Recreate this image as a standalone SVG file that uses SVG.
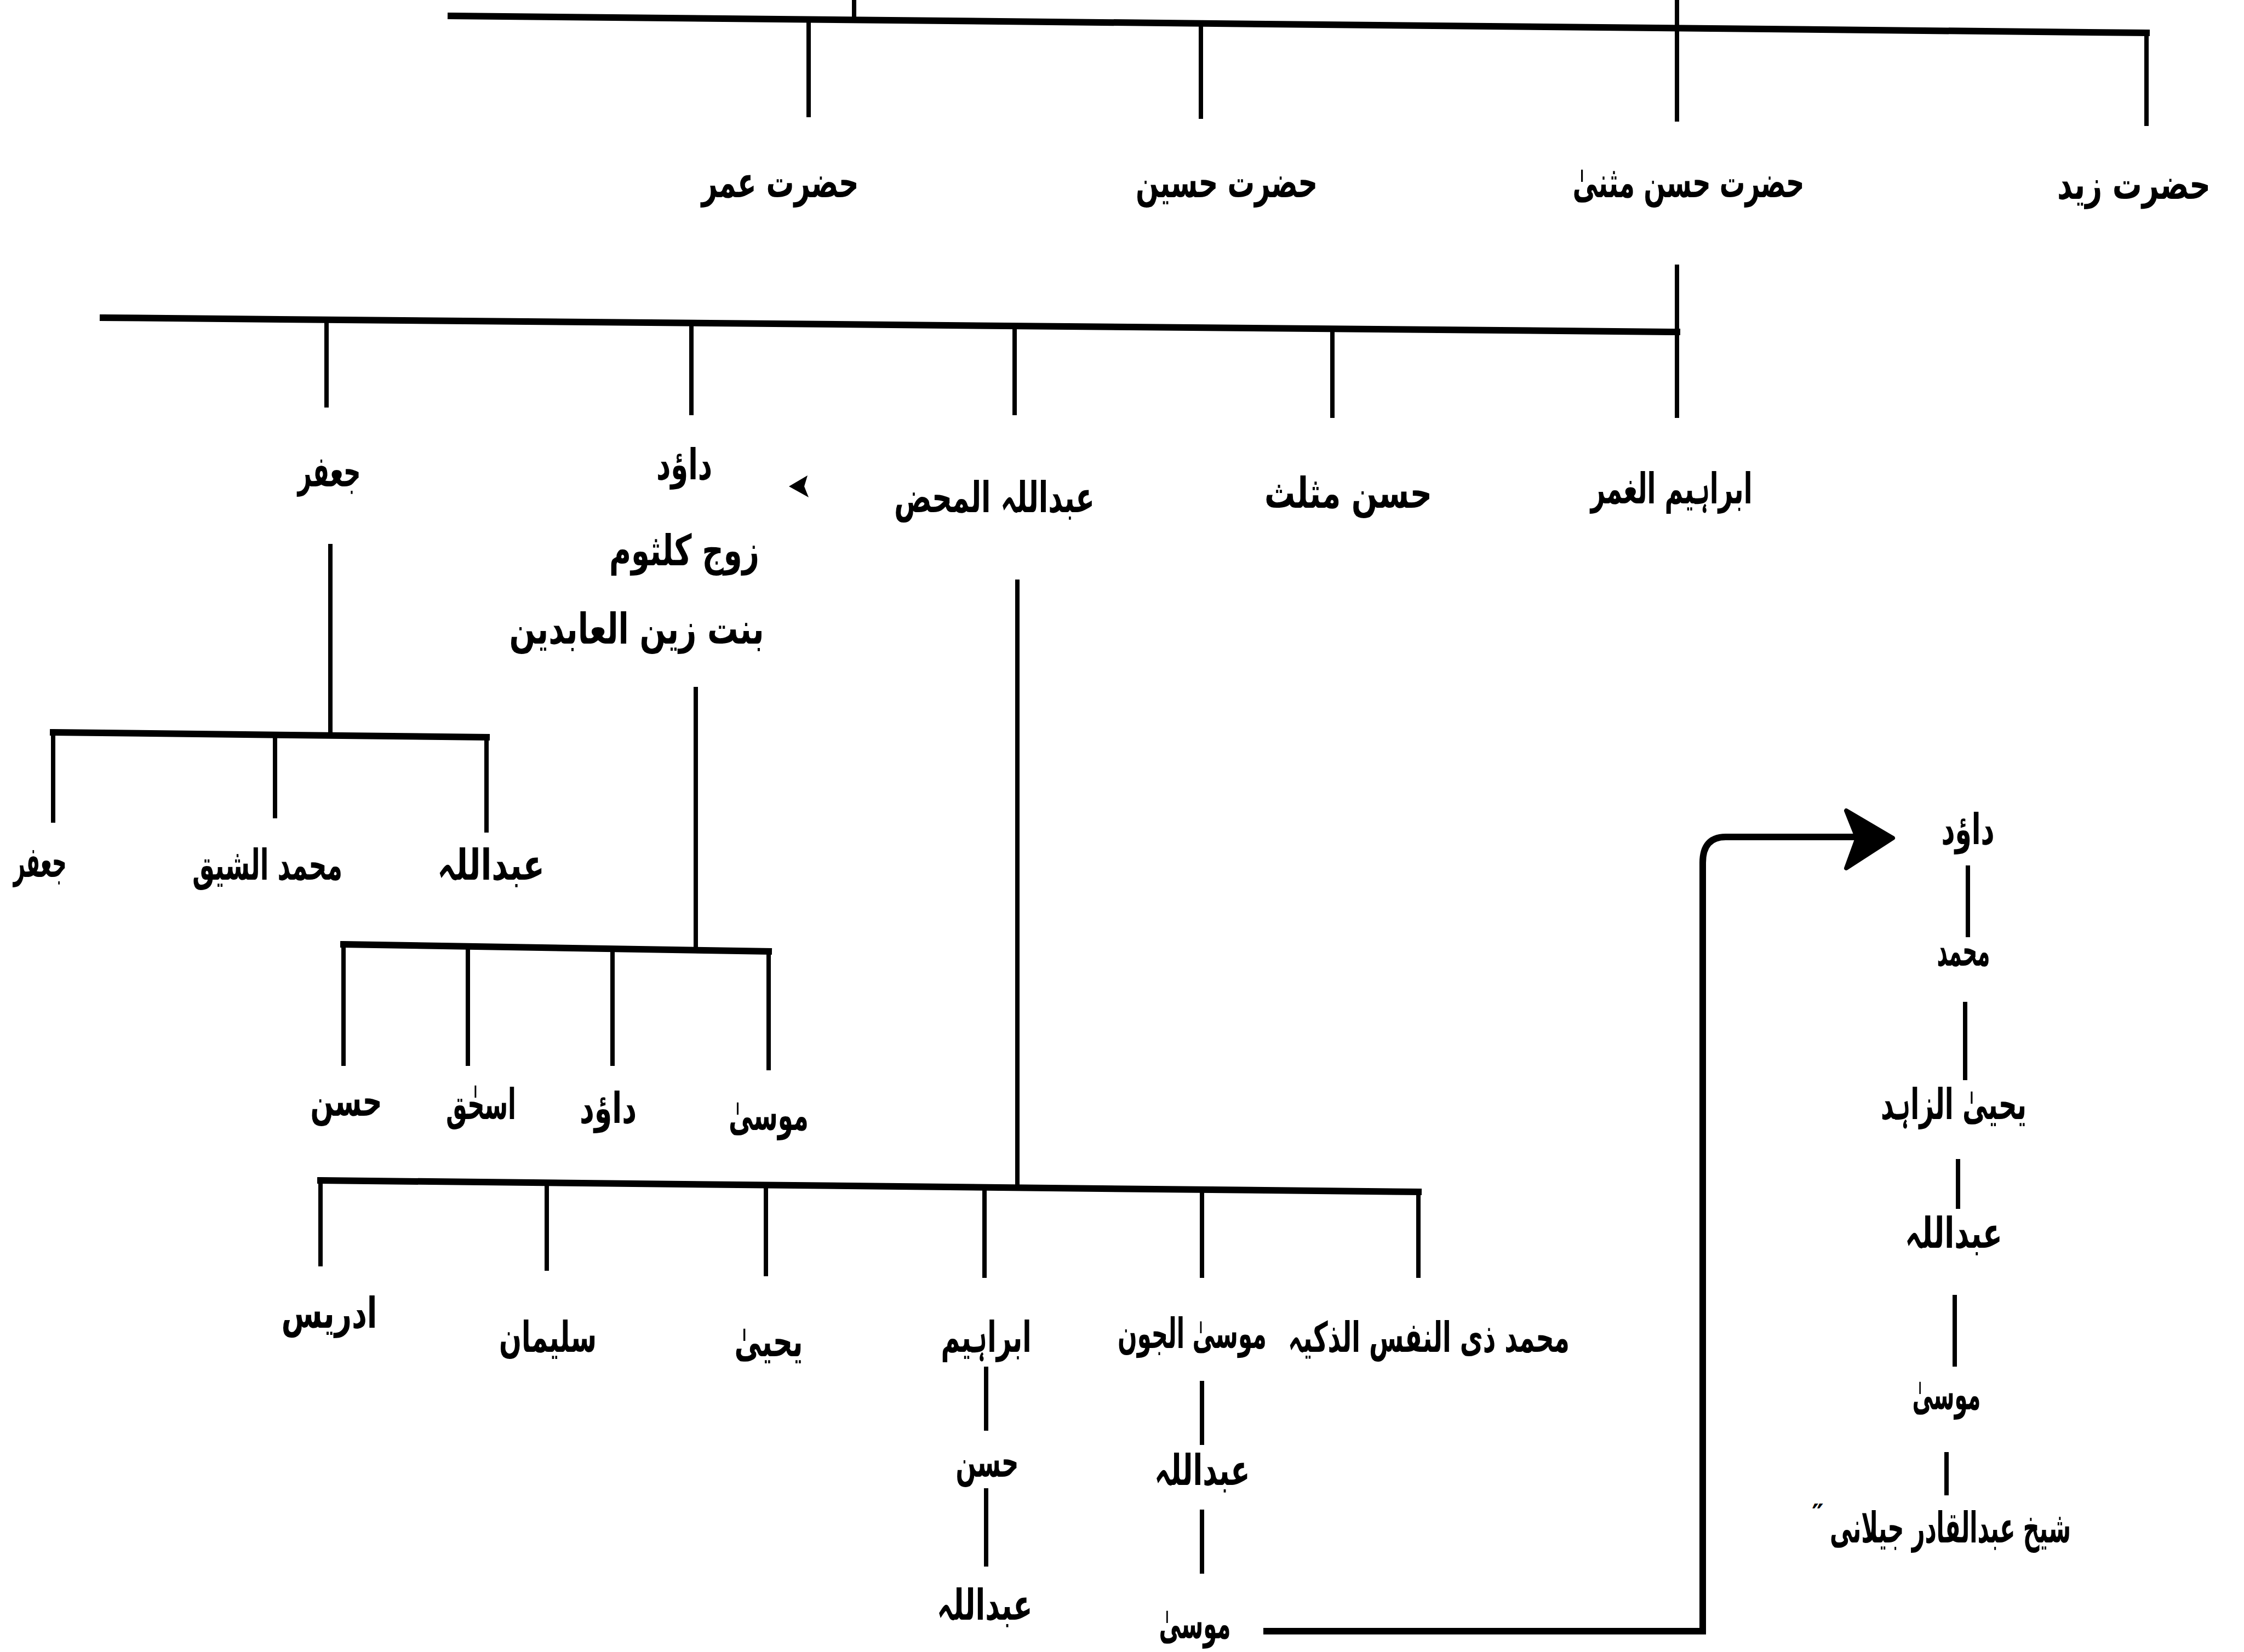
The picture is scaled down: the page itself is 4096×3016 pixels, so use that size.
<svg xmlns="http://www.w3.org/2000/svg" width="4096" height="3016" viewBox="0 0 4096 3016">
  <style>
    .bg { fill: #ffffff; }
    .ln { stroke: #000; stroke-width: 8; fill: none; stroke-linecap: butt; }
    .hl { stroke: #000; stroke-width: 12; fill: none; stroke-linecap: square; }
    .lbl { font-family: "DejaVu Sans", "Noto Sans", sans-serif; font-size: 78px; font-weight: bold; fill: #000; text-anchor: middle; }
    .tight { font-size: 64px; }
  </style>
  <rect class="bg" x="0" y="0" width="4096" height="3016"/>

  <!-- connectors -->
  <g id="connectors">
    <!-- generation 1 bar -->
    <line class="ln" x1="1559" y1="0" x2="1559" y2="33"/>
    <line class="ln" x1="3061" y1="0" x2="3061" y2="222"/>
    <line class="hl" x1="823" y1="29" x2="3918" y2="60"/>
    <line class="ln" x1="1476" y1="37" x2="1476" y2="214"/>
    <line class="ln" x1="2192" y1="44" x2="2192" y2="217"/>
    <line class="ln" x1="3918" y1="60" x2="3918" y2="230"/>

    <!-- children of Hasan Muthanna -->
    <line class="ln" x1="3061" y1="483" x2="3061" y2="763"/>
    <line class="hl" x1="188" y1="580" x2="3061" y2="606"/>
    <line class="ln" x1="596" y1="583" x2="596" y2="744"/>
    <line class="ln" x1="1262" y1="589" x2="1262" y2="758"/>
    <line class="ln" x1="1852" y1="594" x2="1852" y2="758"/>
    <line class="ln" x1="2432" y1="599" x2="2432" y2="763"/>

    <!-- children of Jafar -->
    <line class="ln" x1="603" y1="993" x2="603" y2="1340"/>
    <line class="hl" x1="97" y1="1337" x2="888" y2="1346"/>
    <line class="ln" x1="97" y1="1337" x2="97" y2="1502"/>
    <line class="ln" x1="502" y1="1341" x2="502" y2="1494"/>
    <line class="ln" x1="888" y1="1346" x2="888" y2="1520"/>

    <!-- children of Dawood -->
    <line class="ln" x1="1270" y1="1254" x2="1270" y2="1731"/>
    <line class="hl" x1="627" y1="1724" x2="1403" y2="1737"/>
    <line class="ln" x1="627" y1="1724" x2="627" y2="1946"/>
    <line class="ln" x1="854" y1="1728" x2="854" y2="1946"/>
    <line class="ln" x1="1118" y1="1732" x2="1118" y2="1946"/>
    <line class="ln" x1="1403" y1="1737" x2="1403" y2="1954"/>

    <!-- children of Abdullah al-Mahd -->
    <line class="ln" x1="1857" y1="1058" x2="1857" y2="2168"/>
    <line class="hl" x1="585" y1="2155" x2="2589" y2="2176"/>
    <line class="ln" x1="585" y1="2155" x2="585" y2="2312"/>
    <line class="ln" x1="998" y1="2159" x2="998" y2="2320"/>
    <line class="ln" x1="1398" y1="2164" x2="1398" y2="2330"/>
    <line class="ln" x1="1797" y1="2168" x2="1797" y2="2333"/>
    <line class="ln" x1="2194" y1="2172" x2="2194" y2="2333"/>
    <line class="ln" x1="2589" y1="2176" x2="2589" y2="2333"/>

    <!-- line of Ibrahim -->
    <line class="ln" x1="1800" y1="2495" x2="1800" y2="2612"/>
    <line class="ln" x1="1800" y1="2717" x2="1800" y2="2860"/>

    <!-- line of Musa al-Jawn -->
    <line class="ln" x1="2194" y1="2521" x2="2194" y2="2638"/>
    <line class="ln" x1="2194" y1="2756" x2="2194" y2="2873"/>

    <!-- link from Musa to Dawood on the right -->
    <path class="hl" d="M2312 2978 L3108 2978 L3108 1575 Q3108 1528 3150 1528 L3390 1528"/>
    <path d="M3455 1530 L3370 1480 L3390 1530 L3370 1585 Z" fill="#000" stroke="#000" stroke-width="8" stroke-linejoin="round"/>

    <!-- line down to Shaikh Abdul Qadir -->
    <line class="ln" x1="3592" y1="1580" x2="3592" y2="1711"/>
    <line class="ln" x1="3587" y1="1829" x2="3587" y2="1972"/>
    <line class="ln" x1="3574" y1="2116" x2="3574" y2="2207"/>
    <line class="ln" x1="3568" y1="2364" x2="3568" y2="2495"/>
    <line class="ln" x1="3553" y1="2651" x2="3553" y2="2730"/>

    <!-- small pointer beside Dawood -->
    <path d="M1440 888 L1474 868 L1468 888 L1476 908 Z" fill="#000"/>
  </g>

  <!-- generation 1 -->
  <g id="n-umar"><text class="lbl" x="1424" y="360" textLength="287" lengthAdjust="spacingAndGlyphs">حضرت عمر</text></g>
  <g id="n-husain"><text class="lbl" x="2239" y="360" textLength="332" lengthAdjust="spacingAndGlyphs">حضرت حسین</text></g>
  <g id="n-hasan-muthanna"><text class="lbl" x="3082" y="360" textLength="423" lengthAdjust="spacingAndGlyphs">حضرت حسن مثنیٰ</text></g>
  <g id="n-zaid"><text class="lbl tight" x="3895" y="363" textLength="280" lengthAdjust="spacingAndGlyphs" style="font-size:76px">حضرت زید</text></g>

  <!-- generation 2 -->
  <g id="n-jafar"><text class="lbl" x="601" y="888" textLength="115" lengthAdjust="spacingAndGlyphs">جعفر</text></g>
  <g id="n-dawood">
    <text class="lbl" x="1249" y="875" textLength="102" lengthAdjust="spacingAndGlyphs">داؤد</text>
    <text class="lbl" x="1249" y="1032" textLength="274" lengthAdjust="spacingAndGlyphs">زوج کلثوم</text>
    <text class="lbl" x="1162" y="1175" textLength="465" lengthAdjust="spacingAndGlyphs">بنت زین العابدین</text>
  </g>
  <g id="n-abdullah-mahd"><text class="lbl" x="1815" y="935" textLength="366" lengthAdjust="spacingAndGlyphs">عبداللہ المحض</text></g>
  <g id="n-hasan-muthallath"><text class="lbl" x="2461" y="927" textLength="306" lengthAdjust="spacingAndGlyphs">حسن مثلث</text></g>
  <g id="n-ibrahim-ghamr"><text class="lbl" x="3051" y="919" textLength="295" lengthAdjust="spacingAndGlyphs">ابراہیم الغمر</text></g>

  <!-- sons of Jafar -->
  <g id="n-jafar-2"><text class="lbl" x="73" y="1601" textLength="97" lengthAdjust="spacingAndGlyphs">جعفر</text></g>
  <g id="n-muhammad-shaiq"><text class="lbl" x="488" y="1606" textLength="274" lengthAdjust="spacingAndGlyphs">محمد الشیق</text></g>
  <g id="n-abdullah-1"><text class="lbl" x="896" y="1606" textLength="196" lengthAdjust="spacingAndGlyphs">عبداللہ</text></g>

  <!-- sons of Dawood -->
  <g id="n-hasan-1"><text class="lbl" x="632" y="2037" textLength="131" lengthAdjust="spacingAndGlyphs">حسن</text></g>
  <g id="n-ishaq"><text class="lbl" x="878" y="2043" textLength="128" lengthAdjust="spacingAndGlyphs">اسحٰق</text></g>
  <g id="n-dawood-2"><text class="lbl" x="1110" y="2050" textLength="104" lengthAdjust="spacingAndGlyphs">داؤد</text></g>
  <g id="n-musa-1"><text class="lbl" x="1403" y="2063" textLength="146" lengthAdjust="spacingAndGlyphs">موسیٰ</text></g>

  <!-- sons of Abdullah al-Mahd -->
  <g id="n-idris"><text class="lbl" x="601" y="2424" textLength="175" lengthAdjust="spacingAndGlyphs">ادریس</text></g>
  <g id="n-sulaiman"><text class="lbl" x="1000" y="2468" textLength="178" lengthAdjust="spacingAndGlyphs">سلیمان</text></g>
  <g id="n-yahya"><text class="lbl" x="1403" y="2476" textLength="125" lengthAdjust="spacingAndGlyphs">یحییٰ</text></g>
  <g id="n-ibrahim"><text class="lbl" x="1800" y="2468" textLength="165" lengthAdjust="spacingAndGlyphs">ابراہیم</text></g>
  <g id="n-musa-jawn"><text class="lbl" x="2176" y="2461" textLength="272" lengthAdjust="spacingAndGlyphs" style="font-size:76px">موسیٰ الجون</text></g>
  <g id="n-muhammad-nafs"><text class="lbl" x="2608" y="2468" textLength="514" lengthAdjust="spacingAndGlyphs" style="font-size:76px">محمد ذی النفس الذکیہ</text></g>

  <!-- descendants of Ibrahim -->
  <g id="n-hasan-2"><text class="lbl" x="1802" y="2696" textLength="115" lengthAdjust="spacingAndGlyphs">حسن</text></g>
  <g id="n-abdullah-2"><text class="lbl" x="1797" y="2957" textLength="175" lengthAdjust="spacingAndGlyphs">عبداللہ</text></g>

  <!-- descendants of Musa al-Jawn -->
  <g id="n-abdullah-3"><text class="lbl" x="2194" y="2711" textLength="175" lengthAdjust="spacingAndGlyphs">عبداللہ</text></g>
  <g id="n-musa-2"><text class="lbl" x="2181" y="2991" textLength="131" lengthAdjust="spacingAndGlyphs">موسیٰ</text></g>

  <!-- line of Shaikh Abdul Qadir Jilani -->
  <g id="n-dawood-3"><text class="lbl" x="3592" y="1541" textLength="97" lengthAdjust="spacingAndGlyphs">داؤد</text></g>
  <g id="n-muhammad"><text class="lbl" x="3584" y="1763" textLength="97" lengthAdjust="spacingAndGlyphs">محمد</text></g>
  <g id="n-yahya-zahid"><text class="lbl" x="3566" y="2043" textLength="266" lengthAdjust="spacingAndGlyphs">یحییٰ الزاہد</text></g>
  <g id="n-abdullah-4"><text class="lbl" x="3566" y="2278" textLength="178" lengthAdjust="spacingAndGlyphs">عبداللہ</text></g>
  <g id="n-musa-3"><text class="lbl" x="3553" y="2573" textLength="125" lengthAdjust="spacingAndGlyphs">موسیٰ</text></g>
  <g id="n-abdul-qadir">
    <text class="lbl" x="3560" y="2816" textLength="440" lengthAdjust="spacingAndGlyphs">شیخ عبدالقادر جیلانی</text>
    <text class="lbl" x="3318" y="2780" style="font-size:48px">″</text>
  </g>
</svg>
